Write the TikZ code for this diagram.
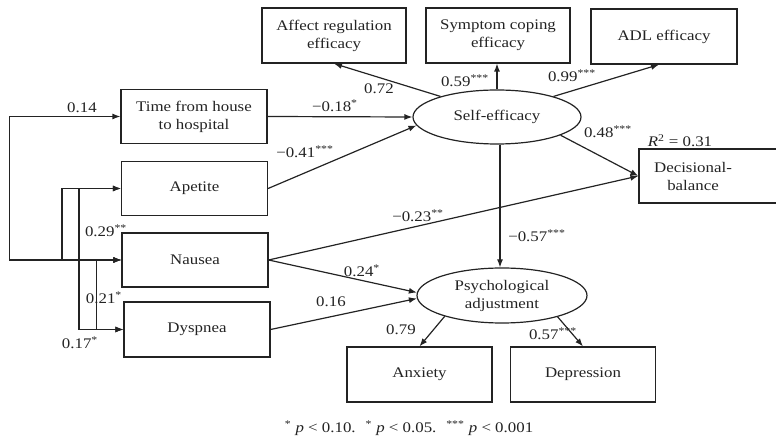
\documentclass[tikz,border=0pt]{standalone}
\usepackage{fontspec}
\setmainfont{Liberation Serif}[FakeStretch=1.15]
\usetikzlibrary{shapes.geometric,arrows.meta,calc}
\definecolor{ink}{RGB}{35,35,35}
\begin{document}
\begin{tikzpicture}[x=0.75pt,y=-0.75pt,
  font=\fontsize{11}{13.5}\selectfont, color=ink,
  box/.style={draw, line width=0.9pt, rectangle, align=center, inner sep=0pt,
              minimum width=109.5pt, minimum height=40.5pt},
  topbox/.style={box, minimum width=108pt, minimum height=41.25pt},
  oval/.style={draw, line width=0.9pt, ellipse, align=center, inner sep=0pt},
  tip/.tip={Latex[length=6pt,width=4.5pt]},
  arr/.style={line width=0.9pt, -tip},
  cov/.style={line width=0.9pt, tip-tip},
  lab/.style={inner sep=0pt}]
\useasboundingbox (0,0) rectangle (776,441);

% boxes
\node[box] (time) at (194,116.5) {Time from house\\to hospital};
\node[box] (apet) at (194.5,188.5) {Apetite};
\node[box] (naus) at (195,260) {Nausea};
\node[box, minimum height=41.25pt] (dysp) at (197,329.5) {Dyspnea};
\node[topbox] (affect) at (334,35.5) {Affect regulation\\efficacy};
\node[topbox] (sympt) at (498,35.5) {Symptom coping\\efficacy};
\node[topbox, minimum width=109.5pt] (adl) at (664,36.5) {ADL efficacy};
\node[box, minimum width=104.25pt] (dec) at (708.5,176) {};
\node[lab, align=center] (dect) at (693,176) {Decisional-\\balance};
\node[topbox, minimum width=108.75pt] (anx) at (419.5,374.5) {Anxiety};
\node[topbox, minimum width=108.75pt] (dep) at (583,374.5) {Depression};

% latent variables
\node[oval, minimum width=126pt, minimum height=40.5pt] (self) at (497,117) {Self-efficacy};
\node[oval, minimum width=127.5pt, minimum height=41.25pt] (psy) at (502,295.5) {Psychological\\adjustment};

% covariances on the left
\draw[cov] (naus.west) -- ++(-112,0) |- (time.west);
\draw[cov] (apet.west) -- ++(-59,0) |- (naus.west);
\draw[cov] (apet.west) -- ++(-42,0) |- (dysp.west);
\draw[cov] (naus.west) -- ++(-25,0) |- (dysp.west);

% paths
\coordinate (sa) at ($(self.south)+(3,0)$);
\draw[arr] (time.east) -- (self.west);
\draw[arr] (apet.east) -- (self.186);
\draw[arr] (naus.east) -- (dec.west);
\draw[arr] (naus.east) -- (psy.178);
\draw[arr] (dysp.east) -- (psy.182);
\draw[arr] (self.160) -- (affect.south);
\draw[arr] (self.north) -- (self.north |- sympt.south);
\draw[arr] (self.20) -- ($(adl.south)+(-5,0)$);
\draw[arr] (self.-16) -- (dec.west);
\draw[arr] (sa) -- (sa |- psy.north);
\draw[arr] (psy.200) -- (anx.north);
\draw[arr] (psy.-21) -- (dep.north);

% labels
\node[lab] (l1) at (82,108) {0.14};
\node[lab] (l2) at (106,231) {0.29\textsuperscript{**}};
\node[lab] (l3) at (104,298) {0.21\textsuperscript{*}};
\node[lab] (l4) at (80,343) {0.17\textsuperscript{*}};
\node[lab] (l5) at (335,106) {−0.18\textsuperscript{*}};
\node[lab] (l6) at (305,152) {−0.41\textsuperscript{***}};
\node[lab] (l7) at (418,216) {−0.23\textsuperscript{**}};
\node[lab] (l8) at (537,236) {−0.57\textsuperscript{***}};
\node[lab] (l9) at (362,271) {0.24\textsuperscript{*}};
\node[lab] (l10) at (331,302) {0.16};
\node[lab] (l11) at (401,330) {0.79};
\node[lab] (l12) at (553,334) {0.57\textsuperscript{***}};
\node[lab] (l13) at (379,89) {0.72};
\node[lab] (l14) at (465,81) {0.59\textsuperscript{***}};
\node[lab] (l15) at (572,76) {0.99\textsuperscript{***}};
\node[lab] (l16) at (608,132) {0.48\textsuperscript{***}};
\node[lab] (r2) at (680,141) {\textit{R}\textsuperscript{2} = 0.31};
\node[lab, font=\fontsize{11}{13}\selectfont] (foot) at (409,428)
  {\textsuperscript{*} \textit{p} {<} 0.10. \ \textsuperscript{*} \textit{p} {<} 0.05. \ \textsuperscript{***} \textit{p} {<} 0.001};
\end{tikzpicture}
\end{document}
